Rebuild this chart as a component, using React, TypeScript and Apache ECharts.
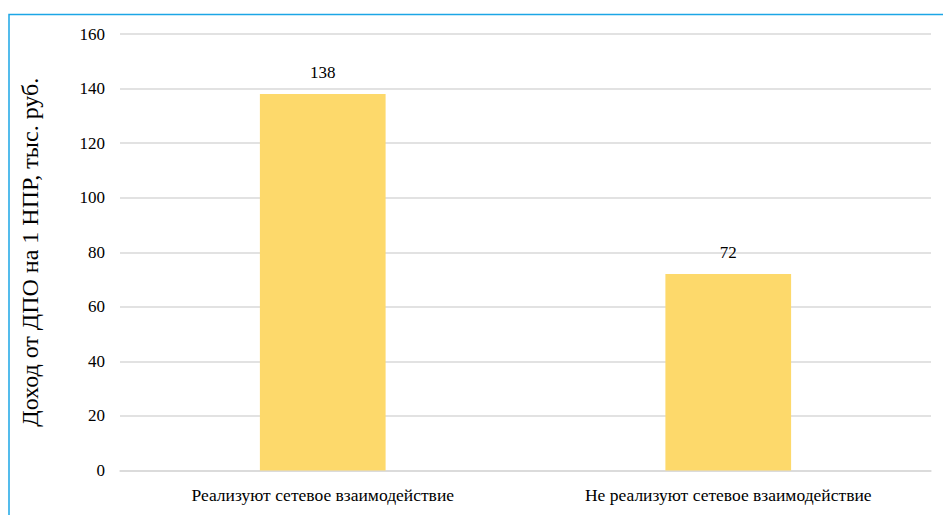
import React, { useEffect, useRef } from "react";
import * as echarts from "echarts";

const categories = ["Реализуют сетевое взаимодействие", "Не реализуют сетевое взаимодействие"];
const values = [138, 72];
const yTicks = { min: 0, max: 160, interval: 20 };
const yAxisName = "Доход от ДПО на 1 НПР, тыс. руб.";

export default function App() {
  const ref = useRef<HTMLDivElement>(null);
  useEffect(() => {
    if (!ref.current) return;
    const chart = echarts.init(ref.current, null, { renderer: "svg" });
    const font = "Liberation Serif";
    chart.setOption({
      animation: false,
      backgroundColor: "#ffffff",
      grid: { left: 120, right: 12, top: 34, bottom: 44.5, containLabel: false },
      xAxis: {
        type: "category",
        data: categories,
        axisLine: { show: true, lineStyle: { color: "#d9d9d9", width: 1.5 } },
        axisTick: { show: false },
        axisLabel: { color: "#000", fontFamily: font, fontSize: 17.5, margin: 15 },
      },
      yAxis: {
        type: "value",
        min: yTicks.min,
        max: yTicks.max,
        interval: yTicks.interval,
        name: yAxisName,
        nameLocation: "middle",
        nameGap: 78,
        nameRotate: 90,
        nameTextStyle: { color: "#000", fontFamily: font, fontSize: 24 },
        axisLine: { show: false },
        axisTick: { show: false },
        axisLabel: { color: "#000", fontFamily: font, fontSize: 17, margin: 15 },
        splitLine: { lineStyle: { color: "#d9d9d9", width: 1.5 } },
      },
      series: [
        {
          type: "bar",
          data: values,
          barWidth: "31%",
          itemStyle: { color: "#FDD96B" },
          label: {
            show: true,
            position: "top",
            distance: 13,
            color: "#000",
            fontFamily: font,
            fontSize: 17,
          },
        },
      ],
      graphic: [
        {
          type: "rect",
          shape: { x: 9, y: 14.5, width: 1000, height: 600 },
          style: { fill: "none", stroke: "#1CA6E6", lineWidth: 1.5 },
          silent: true,
        },
      ],
    });
    return () => chart.dispose();
  }, []);
  return (
    <div
      ref={ref}
      style={{ position: "fixed", left: 0, top: 0, width: 943, height: 515 }}
    />
  );
}
